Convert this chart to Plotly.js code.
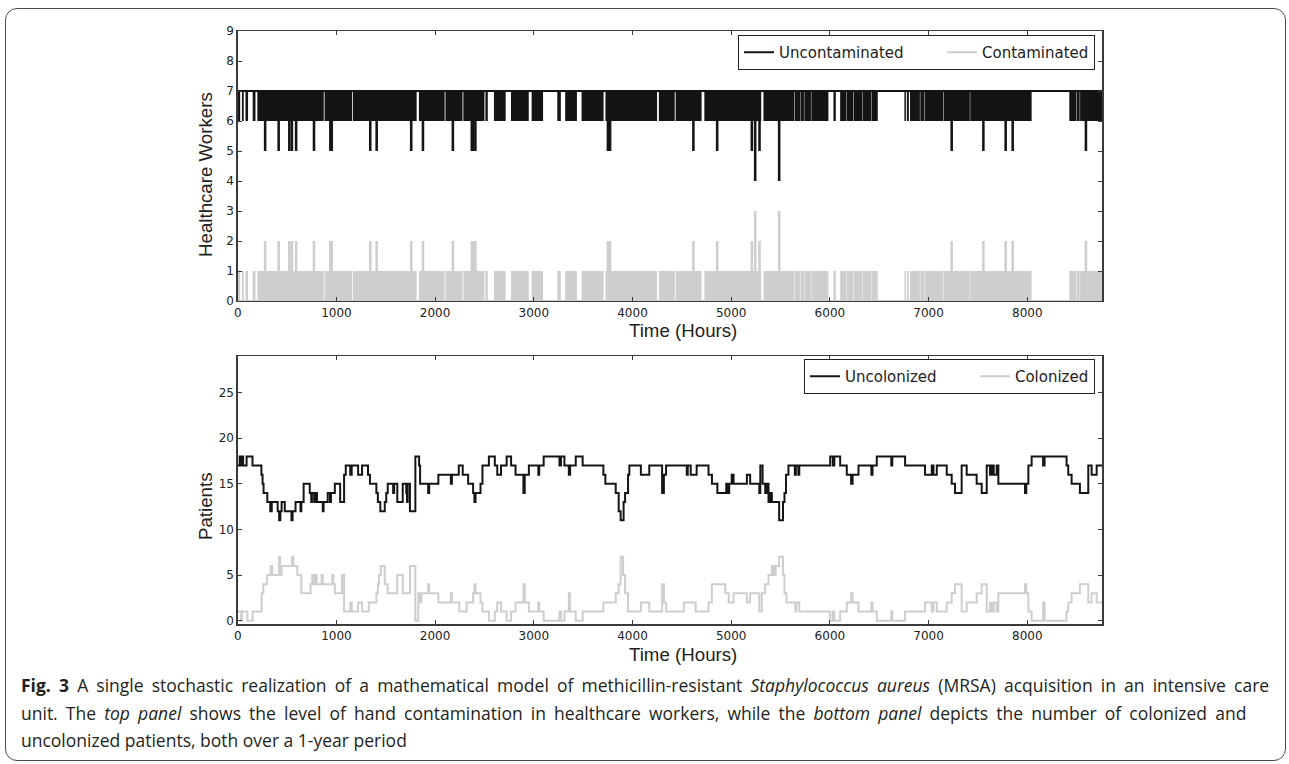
<!DOCTYPE html>
<html>
<head>
<meta charset="utf-8">
<script src="https://cdn.plot.ly/plotly-3.0.1.min.js"></script>
<style>
  html, body { margin: 0; padding: 0; background: #fff; }
  #wrap { position: relative; width: 1289px; height: 764px; overflow: hidden; }
  #chart { position: absolute; left: 0; top: 0; width: 1289px; height: 764px; }
  #frame { position: absolute; left: 5px; top: 8px; width: 1279px; height: 751px;
           border: 1.5px solid #4a4a4a; border-radius: 12px; pointer-events: none; }
  #caption { position: absolute; left: 21px; top: 672px; width: 1262px;
             font-family: "Open Sans", sans-serif; font-size: 17.5px; line-height: 27.5px;
             color: #231f20; white-space: nowrap; }
  #caption b { font-weight: 700; }
  #caption .l1 { word-spacing: 3.6px; }
  #caption .l2 { word-spacing: 3.6px; }
</style>
</head>
<body>
<div id="wrap">
  <div id="chart"></div>
  <div id="frame"></div>
  <div id="caption"><span class="l1"><b>Fig. 3</b> A single stochastic realization of a mathematical model of methicillin-resistant <i>Staphylococcus aureus</i> (MRSA) acquisition in an intensive care</span><br><span class="l2">unit. The <i>top panel</i> shows the level of hand contamination in healthcare workers, while the <i>bottom panel</i> depicts the number of colonized and</span><br>uncolonized patients, both over a 1-year period</div>
</div>
<script>
// ---------- Top panel: healthcare workers (total 7) ----------
// Periods (hours) in which the counts switch rapidly between 6/7 uncontaminated (1/0 contaminated)
const bandStart = [0, 43, 79, 152, 199, 880, 1166, 1836, 2105, 2286, 2510, 2596, 2769, 2978, 3238, 3318, 3484, 3726, 4267, 4437, 4728, 5327, 5643, 5701, 5741, 5812, 6036, 6104, 6173, 6241, 6335, 6426, 6755, 6780, 6812, 6916, 6959, 7152, 7422, 8426, 8502, 8535];
const bandEnd   = [25, 61, 105, 180, 872, 1158, 1813, 2097, 2278, 2500, 2534, 2715, 2949, 3094, 3274, 3437, 3707, 4249, 4428, 4700, 5304, 5639, 5697, 5737, 5808, 5985, 6060, 6169, 6237, 6331, 6422, 6485, 6770, 6800, 6912, 6955, 7148, 7418, 8044, 8498, 8531, 8760];
// Short excursions: lowest uncontaminated count / highest contaminated count
const dipTime = [278, 415, 523, 549, 592, 773, 939, 953, 1343, 1408, 1758, 1877, 2180, 2372, 2385, 2408, 3751, 3773, 4617, 4858, 5209, 5243, 5287, 5486, 7234, 7555, 7781, 7852, 8594];
const uncontamMin = [5,5,5,5,5,5,5,5,5,5,5,5,5,5,5,5,5,5,5,5,5,4,5,4,5,5,5,5,5];
const contamMax   = [2,2,2,2,2,2,2,2,2,2,2,2,2,2,2,2,2,2,2,2,2,3,2,3,2,2,2,2,2];

// ---------- Bottom panel: patients (step series) ----------
const uncolT = [0,20,30,45,55,90,150,240,252,262,300,330,345,405,420,432,445,477,545,556,586,636,645,668,730,745,752,775,790,803,862,870,912,935,945,984,1038,1078,1095,1140,1155,1220,1260,1320,1340,1405,1420,1445,1490,1505,1520,1575,1585,1617,1672,1708,1715,1722,1745,1800,1838,1848,1930,1940,2033,2160,2170,2240,2280,2335,2385,2398,2410,2460,2480,2545,2605,2630,2668,2725,2770,2815,2895,2908,2950,3046,3055,3100,3260,3275,3310,3355,3368,3425,3495,3705,3725,3830,3860,3880,3910,3925,3955,3968,4085,4170,4300,4318,4340,4550,4560,4590,4650,4770,4805,4860,4950,4970,4980,5005,5024,5159,5192,5285,5295,5318,5345,5360,5378,5395,5412,5486,5525,5540,5555,5580,5645,5655,5680,5690,6003,6030,6045,6104,6171,6215,6230,6290,6420,6432,6475,6622,6632,6762,6964,7032,7049,7083,7184,7234,7268,7335,7386,7487,7538,7589,7622,7640,7660,7690,7707,7977,7990,8011,8044,8160,8175,8398,8415,8449,8533,8618,8652,8703,8760];
const uncolV = [17,18,17,18,17,18,17,16,15,14,13,12,13,12,11,12,13,12,11,12,13,12,13,15,14,13,14,13,14,13,12,13,14,13,14,15,13,16,17,16,17,16,17,16,15,14,13,12,13,14,15,14,15,13,15,14,13,15,12,18,17,15,14,15,16,15,16,17,16,15,14,13,14,15,17,18,17,16,17,18,17,16,14,16,17,16,17,18,17,18,17,16,17,18,17,16,15,14,12,11,13,14,16,17,16,17,14,16,17,16,17,16,17,16,15,14,15,14,15,16,15,16,15,14,17,15,14,15,13,14,13,11,13,14,16,17,16,17,16,17,18,17,18,17,16,15,16,17,16,17,18,17,18,17,16,17,16,17,16,15,14,17,16,15,14,17,16,17,16,17,15,14,15,17,18,17,18,17,16,15,14,17,16,17,17];

const colT = [0,35,45,98,152,242,260,296,333,350,420,430,445,550,565,604,645,738,755,770,790,800,850,862,958,970,984,1056,1078,1140,1155,1220,1260,1328,1405,1420,1432,1450,1490,1520,1617,1672,1745,1800,1830,1848,1860,1930,1940,2033,2160,2170,2245,2320,2385,2398,2410,2460,2480,2545,2605,2630,2668,2725,2770,2815,2895,2908,2950,3046,3055,3100,3260,3275,3310,3355,3368,3425,3495,3705,3830,3860,3880,3905,3925,3955,4085,4170,4300,4318,4340,4520,4640,4770,4804,4940,4975,5024,5159,5192,5285,5310,5344,5378,5412,5430,5450,5486,5525,5540,5560,5650,5660,5690,6003,6030,6045,6104,6171,6215,6230,6290,6420,6432,6475,6622,6632,6762,6964,7032,7049,7083,7184,7234,7268,7335,7386,7487,7538,7589,7622,7640,7660,7690,7707,7977,7990,8011,8044,8160,8175,8398,8415,8449,8533,8618,8652,8703,8760];
const colV = [1,0,1,0,1,3,4,5,6,5,7,5,6,7,6,5,3,4,5,4,5,4,5,4,5,4,3,5,1,2,1,2,1,2,3,4,5,6,4,3,5,3,6,0,3,2,3,4,3,2,3,2,1,2,3,4,3,2,1,0,1,2,1,0,1,2,4,2,1,2,1,0,1,0,1,3,1,0,1,2,3,4,7,5,3,1,2,1,4,2,1,2,1,2,4,3,2,3,2,3,1,3,4,5,6,5,6,7,5,3,2,1,2,1,0,1,0,1,2,3,2,1,2,1,0,1,0,1,2,1,2,1,2,3,4,1,2,3,4,1,2,1,2,1,3,4,3,1,0,2,0,1,2,3,4,2,3,2,2];

const xTicks = [0,1000,2000,3000,4000,5000,6000,7000,8000];
const hcwTicks = [0,1,2,3,4,5,6,7,8,9];
const patTicks = [0,5,10,15,20,25];

// ---------- styling ----------
const BLACK = '#141414';
const GREY = '#cdcecd';
const AX = '#3a3a3a';
const tickFont = {family: 'DejaVu Sans', size: 12, color: '#222'};
const titleFont = {family: 'Liberation Sans, Arial', size: 18.7, color: '#222'};
const legFont = {family: 'DejaVu Sans', size: 15, color: '#222'};
const PAD = '\u00a0'.repeat(7);

const bandMid = bandStart.map((s, i) => (s + bandEnd[i]) / 2);
const bandW = bandStart.map((s, i) => bandEnd[i] - s);
const dipW = dipTime.map(() => 26);

const traces = [
  {type: 'bar', x: bandMid, width: bandW, base: bandStart.map(() => 6), y: bandStart.map(() => 1),
   marker: {color: BLACK, line: {width: 0}}, showlegend: false, xaxis: 'x', yaxis: 'y', hoverinfo: 'skip'},
  {type: 'bar', x: dipTime, width: dipW, base: uncontamMin, y: uncontamMin.map(v => 6 - v),
   marker: {color: BLACK, line: {width: 0}}, showlegend: false, xaxis: 'x', yaxis: 'y', hoverinfo: 'skip'},
  {type: 'bar', x: bandMid, width: bandW, base: bandStart.map(() => 0), y: bandStart.map(() => 1),
   marker: {color: GREY, line: {width: 0}}, showlegend: false, xaxis: 'x', yaxis: 'y', hoverinfo: 'skip'},
  {type: 'bar', x: dipTime, width: dipW, base: contamMax.map(() => 1), y: contamMax.map(v => v - 1),
   marker: {color: GREY, line: {width: 0}}, showlegend: false, xaxis: 'x', yaxis: 'y', hoverinfo: 'skip'},
  {type: 'scatter', mode: 'lines', name: 'Uncontaminated' + PAD, x: [0, 8760], y: [7, 7],
   line: {color: BLACK, width: 2}, xaxis: 'x', yaxis: 'y', legend: 'legend'},
  {type: 'scatter', mode: 'lines', name: 'Contaminated', x: [0, 8760], y: [0, 0],
   line: {color: GREY, width: 2}, xaxis: 'x', yaxis: 'y', legend: 'legend'},
  {type: 'scatter', mode: 'lines', name: 'Uncolonized' + PAD, x: uncolT, y: uncolV,
   line: {color: BLACK, width: 2, shape: 'hv'}, xaxis: 'x2', yaxis: 'y2', legend: 'legend2'},
  {type: 'scatter', mode: 'lines', name: 'Colonized', x: colT, y: colV,
   line: {color: GREY, width: 2, shape: 'hv'}, xaxis: 'x2', yaxis: 'y2', legend: 'legend2'}
];

const W = 1289, H = 764;
const xDom = [237.7 / W, 1102.3 / W];
function axisX(anchor) {
  return {domain: xDom, anchor: anchor, range: [0, 8760], tickvals: xTicks, ticktext: xTicks.map(String),
    ticks: 'inside', ticklen: 4, tickwidth: 1, tickcolor: AX, mirror: 'allticks', showline: true,
    linecolor: AX, linewidth: 1.3, showgrid: false, zeroline: false, tickfont: tickFont};
}
function yAxis(anchor, dom, range, vals) {
  return {domain: dom, anchor: anchor, range: range, tickvals: vals,
    ticks: 'inside', ticklen: 4, tickcolor: AX, mirror: 'allticks', showline: true, linecolor: AX, linewidth: 1.3,
    showgrid: false, zeroline: false, tickfont: tickFont};
}
function label(text, xp, yp, angle) {
  return {text: text, xref: 'paper', yref: 'paper', x: xp / W, y: 1 - yp / H, xanchor: 'center', yanchor: 'middle',
    showarrow: false, textangle: angle, font: titleFont};
}
const layout = {
  width: W, height: H, margin: {l: 0, r: 0, t: 0, b: 0},
  paper_bgcolor: 'rgba(0,0,0,0)', plot_bgcolor: '#fff',
  barmode: 'overlay', showlegend: true,
  xaxis: axisX('y'),
  yaxis: yAxis('x', [1 - 301 / H, 1 - 31 / H], [0, 9], hcwTicks),
  xaxis2: axisX('y2'),
  yaxis2: yAxis('x2', [1 - 624.3 / H, 1 - 356 / H], [-0.4, 29], patTicks),
  annotations: [
    label('Time (Hours)', 683, 330, 0),
    label('Time (Hours)', 683, 654, 0),
    label('Healthcare Workers', 206, 174, -90),
    label('Patients', 205, 506, -90)
  ],
  legend: {x: 1095 / W, xanchor: 'right', y: 1 - 35 / H, yanchor: 'top', orientation: 'h',
    bgcolor: '#fff', bordercolor: '#222', borderwidth: 1, font: legFont, itemwidth: 30},
  legend2: {x: 1095 / W, xanchor: 'right', y: 1 - 359 / H, yanchor: 'top', orientation: 'h',
    bgcolor: '#fff', bordercolor: '#222', borderwidth: 1, font: legFont, itemwidth: 30}
};
Plotly.newPlot('chart', traces, layout, {staticPlot: true, displayModeBar: false});
</script>
</body>
</html>
